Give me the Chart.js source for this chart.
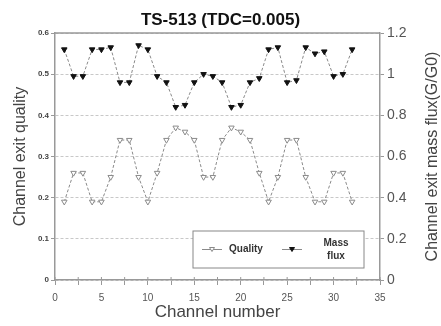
<!DOCTYPE html>
<html>
<head>
<meta charset="utf-8">
<script src="https://cdn.jsdelivr.net/npm/chart.js@4/dist/chart.umd.min.js"></script>
<style>
    html, body { margin: 0; padding: 0; background: #fff; }
    #wrap { width: 441px; height: 326px; }
</style>
</head>
<body>
<div id="wrap"><canvas id="flowChart"></canvas></div>
<script>
const channels = [1, 2, 3, 4, 5, 6, 7, 8, 9, 10, 11, 12, 13, 14, 15, 16,
    17, 18, 19, 20, 21, 22, 23, 24, 25, 26, 27, 28, 29, 30, 31, 32];
const quality = [0.19, 0.26, 0.26, 0.19, 0.19, 0.25, 0.34, 0.34, 0.25, 0.19, 0.26, 0.34, 0.37, 0.36, 0.34, 0.25,
    0.25, 0.34, 0.37, 0.36, 0.34, 0.26, 0.19, 0.25, 0.34, 0.34, 0.25, 0.19, 0.19, 0.26, 0.26, 0.19];
const massFlux = [1.12, 0.99, 0.99, 1.12, 1.12, 1.13, 0.96, 0.96, 1.14, 1.12, 0.99, 0.96, 0.84, 0.85, 0.96, 1.0,
    0.99, 0.96, 0.84, 0.85, 0.96, 0.98, 1.12, 1.13, 0.96, 0.97, 1.13, 1.10, 1.11, 0.99, 1.0, 1.12];

const FONT = 'Liberation Sans, Arial, sans-serif';
const AXIS_GREY = '#999';

// plain number labels: 1 instead of 1.0
const plainLabel = v => String(Number(v.toFixed(2)));

// frame top, inner x ticks, right axis title and the boxed legend
const extras = {
    id: 'extras',
    afterDraw(chart) {
        const ctx = chart.ctx;
        const area = chart.chartArea;
        const xs = chart.scales.x;
        ctx.save();

        ctx.strokeStyle = AXIS_GREY;
        ctx.lineWidth = 1.5;
        ctx.beginPath();
        ctx.moveTo(area.left, area.top);
        ctx.lineTo(area.right, area.top);
        ctx.stroke();

        ctx.lineWidth = 1;
        ctx.beginPath();
        xs.ticks.forEach(t => {
            const px = xs.getPixelForValue(t.value);
            ctx.moveTo(px, area.bottom);
            ctx.lineTo(px, area.bottom - 3);
        });
        ctx.stroke();

        ctx.fillStyle = '#444';
        ctx.font = '16px ' + FONT;
        ctx.textAlign = 'center';
        ctx.textBaseline = 'middle';
        ctx.translate(433, (area.top + area.bottom) / 2);
        ctx.rotate(-Math.PI / 2);
        ctx.fillText('Channel exit mass flux(G/G0)', 0, 0);
        ctx.restore();

        // legend
        ctx.save();
        const boxR = area.right - 16, boxB = area.bottom - 12;
        const boxL = boxR - 171, boxT = boxB - 37;
        ctx.fillStyle = '#fff';
        ctx.fillRect(boxL, boxT, boxR - boxL, boxB - boxT);
        ctx.strokeStyle = '#888';
        ctx.lineWidth = 1;
        ctx.strokeRect(boxL, boxT, boxR - boxL, boxB - boxT);

        const midY = (boxT + boxB) / 2;
        const slots = [boxL + 9, boxL + 89];
        chart.data.datasets.forEach((ds, i) => {
            const x0 = slots[i];
            ctx.strokeStyle = ds.borderColor;
            ctx.lineWidth = 1;
            ctx.beginPath();
            ctx.moveTo(x0, midY);
            ctx.lineTo(x0 + 20, midY);
            ctx.stroke();
            ctx.fillStyle = ds.pointBackgroundColor;
            ctx.strokeStyle = ds.pointBorderColor;
            ctx.beginPath();
            ctx.moveTo(x0 + 7.5, midY - 2);
            ctx.lineTo(x0 + 12.5, midY - 2);
            ctx.lineTo(x0 + 10, midY + 2);
            ctx.closePath();
            ctx.fill();
            ctx.stroke();

            ctx.fillStyle = '#333';
            ctx.font = 'bold 10px ' + FONT;
            ctx.textBaseline = 'middle';
            const lines = ds.label.split('\n');
            if (lines.length === 1) {
                ctx.textAlign = 'left';
                ctx.fillText(lines[0], x0 + 27, midY);
            } else {
                ctx.textAlign = 'center';
                lines.forEach((t, k) => {
                    ctx.fillText(t, x0 + 54, midY + (k - (lines.length - 1) / 2) * 13);
                });
            }
        });
        ctx.restore();
    }
};

const ctx = document.getElementById('flowChart').getContext('2d');
new Chart(ctx, {
    type: 'line',
    data: {
        datasets: [{
            label: 'Quality',
            data: channels.map((c, i) => ({ x: c, y: quality[i] })),
            yAxisID: 'y',
            borderColor: '#8a8a8a',
            borderWidth: 1,
            borderDash: [3, 2],
            pointStyle: 'triangle',
            rotation: 180,
            radius: 3.2,
            pointBackgroundColor: '#fff',
            pointBorderColor: '#8a8a8a',
            pointBorderWidth: 1
        }, {
            label: 'Mass\nflux',
            data: channels.map((c, i) => ({ x: c, y: massFlux[i] })),
            yAxisID: 'y1',
            borderColor: '#8a8a8a',
            borderWidth: 1,
            borderDash: [3, 2],
            pointStyle: 'triangle',
            rotation: 180,
            radius: 3.2,
            pointBackgroundColor: '#111',
            pointBorderColor: '#111',
            pointBorderWidth: 1
        }]
    },
    options: {
        responsive: true,
        maintainAspectRatio: false,
        animation: false,
        layout: { padding: 0 },
        plugins: {
            legend: { display: false },
            tooltip: { enabled: false },
            title: {
                display: true,
                text: 'TS-513 (TDC=0.005)',
                color: '#111',
                font: { family: FONT, size: 17, weight: 'bold' },
                padding: { top: 10, bottom: 2.6 }
            }
        },
        scales: {
            x: {
                type: 'linear',
                min: 0,
                max: 35,
                afterFit: s => { s.height = 46; },
                afterBuildTicks: s => {
                    s.ticks = [];
                    for (let v = 0; v <= 35; v += 2.5) s.ticks.push({ value: v });
                },
                ticks: {
                    autoSkip: false,
                    maxRotation: 0,
                    padding: 7,
                    color: '#555',
                    font: { family: FONT, size: 10 },
                    callback: v => (v % 5 === 0 ? v : '')
                },
                grid: { drawOnChartArea: false, tickLength: 5, color: AXIS_GREY },
                border: { color: AXIS_GREY, width: 1.5 },
                title: {
                    display: true,
                    text: 'Channel number',
                    color: '#444',
                    font: { family: FONT, size: 17 },
                    padding: { top: 0, bottom: 3 }
                }
            },
            y: {
                position: 'left',
                min: 0,
                max: 0.6,
                afterFit: s => { s.width = 55; },
                ticks: {
                    stepSize: 0.1,
                    padding: 2,
                    color: '#444',
                    font: { family: FONT, size: 8, weight: 'bold' },
                    callback: plainLabel
                },
                grid: { color: '#c8c8c8', tickLength: 4, tickColor: AXIS_GREY },
                border: { color: AXIS_GREY, width: 1.5, dash: [3, 2] },
                title: {
                    display: true,
                    text: 'Channel exit quality',
                    color: '#444',
                    font: { family: FONT, size: 16 },
                    padding: { top: 11, bottom: 0 }
                }
            },
            y1: {
                position: 'right',
                min: 0,
                max: 1.2,
                afterFit: s => { s.width = 61; },
                ticks: {
                    stepSize: 0.2,
                    padding: 3,
                    color: '#555',
                    font: { family: FONT, size: 14 },
                    callback: plainLabel
                },
                grid: { drawOnChartArea: false, tickLength: 4, color: AXIS_GREY },
                border: { color: AXIS_GREY, width: 1.5 }
            }
        }
    },
    plugins: [extras]
});
</script>
</body>
</html>
